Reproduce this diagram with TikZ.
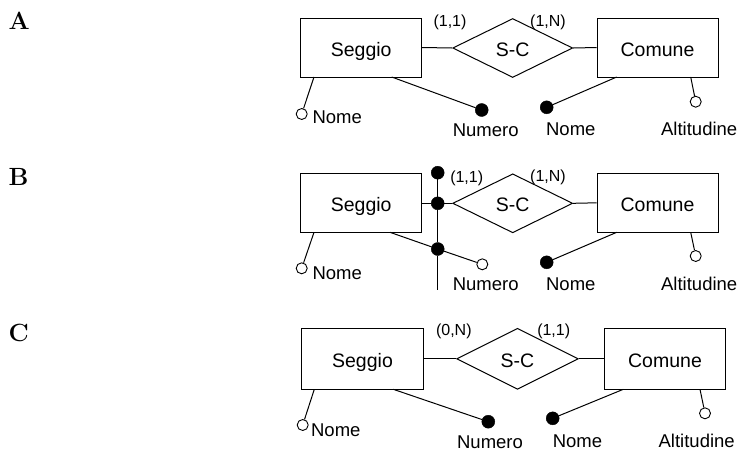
\documentclass[tikz,border=0pt]{standalone}
\usepackage{fontspec}
\setsansfont{Liberation Sans}
\usetikzlibrary{shapes.geometric}
\begin{document}
\begin{tikzpicture}[x=1pt,y=-1pt,
  ent/.style={draw, line width=1pt, minimum width=121pt, minimum height=59pt, inner sep=0pt},
  rel/.style={draw, diamond, line width=1pt, minimum width=120pt, minimum height=59pt, inner sep=0pt},
  etxt/.style={font=\sffamily\fontsize{19.5}{22}\selectfont, inner sep=0pt, anchor=base},
  atxt/.style={font=\sffamily\fontsize{18.5}{20}\selectfont, inner sep=0pt, anchor=base},
  card/.style={font=\sffamily\fontsize{16}{18}\selectfont, inner sep=0pt},
  kdot/.style={circle, fill=black, draw, minimum size=13pt, inner sep=0pt},
  odot/.style={circle, draw, fill=white, minimum size=11pt, inner sep=0pt, line width=0.9pt},
  conn/.style={line width=1pt},
  panel/.style={font=\Huge\bfseries, inner sep=0pt, anchor=base west}
]
\useasboundingbox (0,0) rectangle (741,451);

% ---------- Panel A ----------
\node[panel] (pA) at (8.5,29.3) {A};
\node[ent] (sA) at (361.2,47.5) {};
\node[rel] (rA) at (512.7,48) {};
\node[ent] (cA) at (657.5,47.5) {};
\node[etxt] (tsA) at (361.2,56.5) {Seggio};
\node[etxt] (trA) at (512.7,56.5) {S-C};
\node[etxt] (tcA) at (657.5,56.5) {Comune};
\draw[conn] (sA.east) -- (rA.west);
\draw[conn] (rA.east) -- (cA.west);
\node[card] (k1A) at (450,22.5) {(1,1)};
\node[card] (k2A) at (548,22.5) {(1,N)};
\coordinate (a1A) at (314,77);
\coordinate (a2A) at (391.7,77);
\coordinate (a3A) at (616.7,77);
\coordinate (a4A) at (690.7,77);
\node[odot] (o1A) at (301.7,114) {};
\node[kdot] (d2A) at (481.7,110) {};
\node[kdot] (d3A) at (546.7,107.3) {};
\node[odot] (o4A) at (695.7,101.7) {};
\draw[conn] (a1A) -- (o1A);
\draw[conn] (a2A) -- (d2A);
\draw[conn] (a3A) -- (d3A);
\draw[conn] (a4A) -- (o4A);
\node[atxt] (n1A) at (337.2,123.5) {Nome};
\node[atxt] (n2A) at (485.7,136.5) {Numero};
\node[atxt] (n3A) at (570.8,135) {Nome};
\node[atxt] (n4A) at (699.2,135.5) {Altitudine};

% ---------- Panel B ----------
\node[panel] (pB) at (8.5,185.7) {B};
\node[ent] (sB) at (361.2,202.8) {};
\node[rel] (rB) at (512.7,203.3) {};
\node[ent] (cB) at (657.5,202.8) {};
\node[etxt] (tsB) at (361.2,211.8) {Seggio};
\node[etxt] (trB) at (512.7,211.8) {S-C};
\node[etxt] (tcB) at (657.5,211.8) {Comune};
\node[kdot] (v1B) at (437.7,172.7) {};
\node[kdot] (v2B) at (437.7,203.3) {};
\node[kdot] (v3B) at (437.7,249) {};
\coordinate (vendB) at (437.7,290);
\draw[conn] (v1B) -- (v2B) -- (v3B) -- (vendB);
\draw[conn] (sB.east |- rB.west) -- (v2B) -- (rB.west);
\draw[conn] (rB.east) -- (cB.west);
\node[card] (k1B) at (466.7,178) {(1,1)};
\node[card] (k2B) at (548,177.5) {(1,N)};
\coordinate (a1B) at (314,232.3);
\coordinate (a2B) at (390,232.3);
\coordinate (a3B) at (616.7,232.3);
\coordinate (a4B) at (690.7,232.3);
\node[odot] (o1B) at (301.7,268.3) {};
\node[odot] (o2B) at (482.3,264.3) {};
\node[kdot] (d3B) at (546.7,262.3) {};
\node[odot] (o4B) at (695.7,256) {};
\draw[conn] (a1B) -- (o1B);
\draw[conn] (a2B) -- (v3B) -- (o2B);
\draw[conn] (a3B) -- (d3B);
\draw[conn] (a4B) -- (o4B);
\node[atxt] (n1B) at (337.2,279.5) {Nome};
\node[atxt] (n2B) at (485.7,290.5) {Numero};
\node[atxt] (n3B) at (570.8,290) {Nome};
\node[atxt] (n4B) at (699.2,290) {Altitudine};

% ---------- Panel C ----------
\node[panel] (pC) at (8.5,341) {C};
\node[ent, minimum width=121.6pt, minimum height=61pt] (sC) at (362.5,358.8) {};
\node[rel, minimum width=121.6pt, minimum height=61pt] (rC) at (517.5,358.8) {};
\node[ent, minimum width=121.6pt, minimum height=61pt] (cC) at (665,358.8) {};
\node[etxt] (tsC) at (362.5,367.3) {Seggio};
\node[etxt] (trC) at (517.5,367.3) {S-C};
\node[etxt] (tcC) at (665,367.3) {Comune};
\draw[conn] (sC.east) -- (rC.west);
\draw[conn] (rC.east) -- (cC.west);
\node[card] (k1C) at (453.8,331.3) {(0,N)};
\node[card] (k2C) at (553.7,331.3) {(1,1)};
\coordinate (a1C) at (314.3,389.3);
\coordinate (a2C) at (393.3,389.3);
\coordinate (a3C) at (623.3,389.3);
\coordinate (a4C) at (700,389.3);
\node[odot] (o1C) at (302.7,425) {};
\node[kdot] (d2C) at (488.3,421.7) {};
\node[kdot] (d3C) at (552.7,418.3) {};
\node[odot] (o4C) at (705,413.3) {};
\draw[conn] (a1C) -- (o1C);
\draw[conn] (a2C) -- (d2C);
\draw[conn] (a3C) -- (d3C);
\draw[conn] (a4C) -- (o4C);
\node[atxt] (n1C) at (335.8,436) {Nome};
\node[atxt] (n2C) at (490,448.5) {Numero};
\node[atxt] (n3C) at (577.5,447.5) {Nome};
\node[atxt] (n4C) at (696.7,447.5) {Altitudine};
\end{tikzpicture}
\end{document}
